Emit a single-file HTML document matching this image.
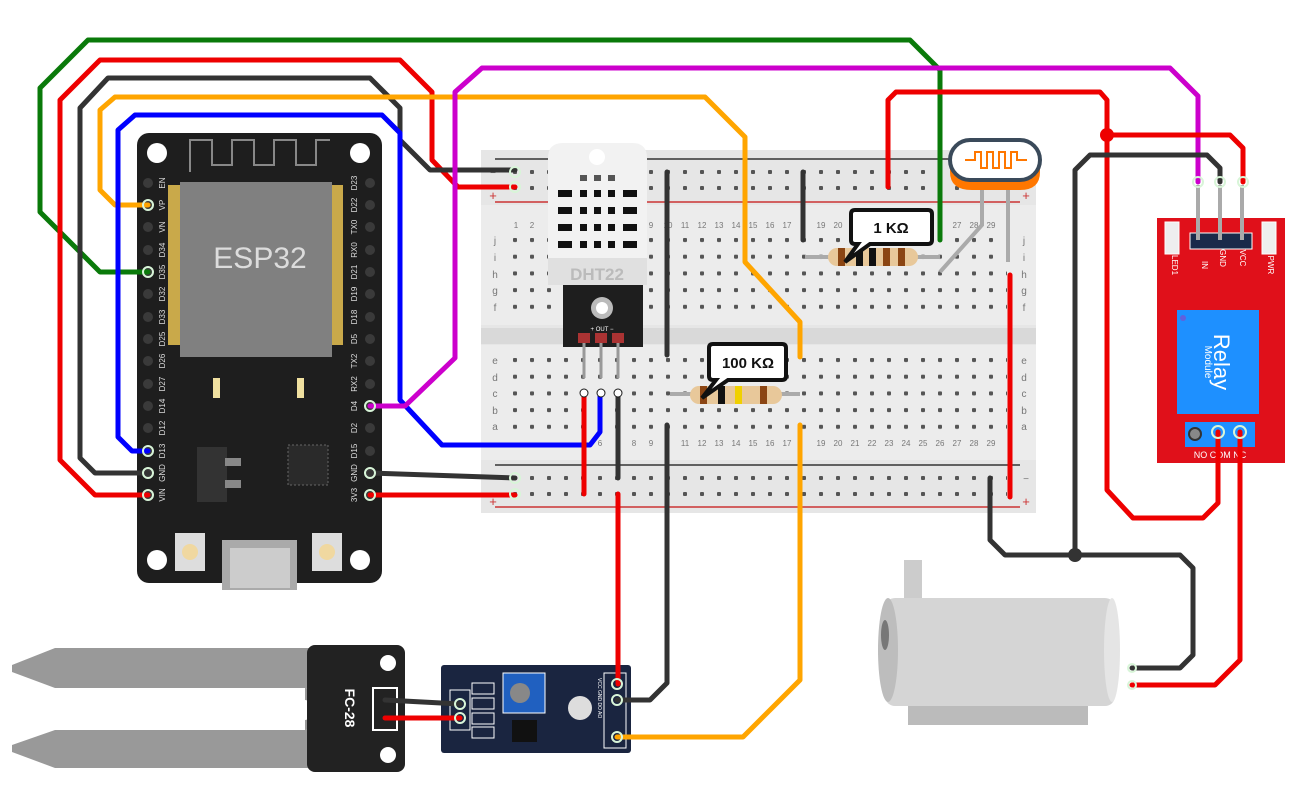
<!DOCTYPE html>
<html><head><meta charset="utf-8"><style>
html,body{margin:0;padding:0;background:#fff;width:1293px;height:807px;overflow:hidden}
svg{display:block;font-family:"Liberation Sans",sans-serif}
</style></head><body>
<svg width="1293" height="807" viewBox="0 0 1293 807" xmlns="http://www.w3.org/2000/svg">
<defs>
<pattern id="h" x="511" y="0" width="17" height="16.7" patternUnits="userSpaceOnUse">
<rect x="2" y="0" width="4" height="4" rx="1" fill="#555"/></pattern>
<pattern id="hr" x="511" y="170" width="17" height="16" patternUnits="userSpaceOnUse">
<rect x="2" y="0" width="4" height="4" rx="1" fill="#555"/></pattern>
<pattern id="hb" x="511" y="476" width="17" height="16" patternUnits="userSpaceOnUse">
<rect x="2" y="0" width="4" height="4" rx="1" fill="#555"/></pattern>
</defs>

<!-- Breadboard -->
<rect x="481" y="150" width="555" height="363" fill="#e6e6e6"/>
<rect x="481" y="205" width="555" height="120" fill="#ececec"/>
<rect x="481" y="328" width="555" height="16" fill="#d9d9d9"/>
<rect x="481" y="345" width="555" height="115" fill="#ececec"/>
<line x1="495" y1="159" x2="1020" y2="159" stroke="#333" stroke-width="1.5"/>
<line x1="495" y1="202" x2="1020" y2="202" stroke="#c33" stroke-width="1.5"/>
<line x1="495" y1="465" x2="1020" y2="465" stroke="#333" stroke-width="1.5"/>
<line x1="495" y1="507" x2="1020" y2="507" stroke="#c33" stroke-width="1.5"/>
<rect x="511" y="170" width="496" height="22" fill="url(#hr)"/>
<rect x="511" y="476" width="496" height="22" fill="url(#hb)"/>
<g transform="translate(0,238)"><rect x="511" y="0" width="496" height="72" fill="url(#h)"/></g>
<g transform="translate(0,358)"><rect x="511" y="0" width="496" height="72" fill="url(#h)"/></g>
<g font-size="10" fill="#777" text-anchor="middle">
<text x="493" y="176">−</text><text x="493" y="200" fill="#c33" font-size="13">+</text>
<text x="1026" y="176">−</text><text x="1026" y="200" fill="#c33" font-size="13">+</text>
<text x="493" y="482">−</text><text x="493" y="506" fill="#c33" font-size="13">+</text>
<text x="1026" y="482">−</text><text x="1026" y="506" fill="#c33" font-size="13">+</text>
<text x="495" y="244">j</text><text x="495" y="261">i</text><text x="495" y="278">h</text><text x="495" y="294">g</text><text x="495" y="311">f</text>
<text x="495" y="364">e</text><text x="495" y="381">d</text><text x="495" y="397">c</text><text x="495" y="414">b</text><text x="495" y="430">a</text>
<text x="1024" y="244">j</text><text x="1024" y="261">i</text><text x="1024" y="278">h</text><text x="1024" y="294">g</text><text x="1024" y="311">f</text>
<text x="1024" y="364">e</text><text x="1024" y="381">d</text><text x="1024" y="397">c</text><text x="1024" y="414">b</text><text x="1024" y="430">a</text>
</g>
<g font-size="8" fill="#777" text-anchor="middle">
<text x="516" y="228">1</text><text x="532" y="228">2</text><text x="651" y="228">9</text><text x="668" y="228">10</text><text x="685" y="228">11</text><text x="702" y="228">12</text><text x="719" y="228">13</text><text x="736" y="228">14</text><text x="753" y="228">15</text><text x="770" y="228">16</text><text x="787" y="228">17</text><text x="821" y="228">19</text><text x="838" y="228">20</text><text x="957" y="228">27</text><text x="974" y="228">28</text><text x="991" y="228">29</text>
<text x="600" y="446">6</text><text x="634" y="446">8</text><text x="651" y="446">9</text><text x="685" y="446">11</text><text x="702" y="446">12</text><text x="719" y="446">13</text><text x="736" y="446">14</text><text x="753" y="446">15</text><text x="770" y="446">16</text><text x="787" y="446">17</text><text x="821" y="446">19</text><text x="838" y="446">20</text><text x="855" y="446">21</text><text x="872" y="446">22</text><text x="889" y="446">23</text><text x="906" y="446">24</text><text x="923" y="446">25</text><text x="940" y="446">26</text><text x="957" y="446">27</text><text x="974" y="446">28</text><text x="991" y="446">29</text>
</g>

<!-- ESP32 -->
<rect x="137" y="133" width="245" height="450" rx="12" fill="#1e1e1e"/>
<circle cx="157" cy="153" r="10" fill="#fff"/><circle cx="360" cy="153" r="10" fill="#fff"/>
<circle cx="157" cy="560" r="10" fill="#fff"/><circle cx="360" cy="560" r="10" fill="#fff"/>
<path d="M190 172 V140 H212 V165 H232 V140 H254 V165 H274 V140 H296 V165 H316 V140 H330" fill="none" stroke="#888" stroke-width="2"/>
<rect x="168" y="185" width="175" height="160" fill="#c9a94a"/>
<rect x="180" y="182" width="152" height="175" fill="#808080"/>
<text x="260" y="268" font-size="30" fill="#dcdcdc" text-anchor="middle">ESP32</text>
<g fill="#f0e0a0"><rect x="213" y="378" width="7" height="20"/><rect x="297" y="378" width="7" height="20"/></g>
<rect x="197" y="447" width="30" height="55" fill="#333"/><rect x="225" y="458" width="16" height="8" fill="#888"/><rect x="225" y="480" width="16" height="8" fill="#888"/>
<rect x="288" y="445" width="40" height="40" fill="#2a2a2a" stroke="#666" stroke-dasharray="2 2"/>
<rect x="175" y="533" width="30" height="38" fill="#ddd"/><circle cx="190" cy="552" r="8" fill="#f0d8a0"/>
<rect x="312" y="533" width="30" height="38" fill="#ddd"/><circle cx="327" cy="552" r="8" fill="#f0d8a0"/>
<rect x="222" y="540" width="75" height="50" fill="#aaa"/><rect x="230" y="548" width="60" height="40" fill="#ccc"/>
<g fill="#3a3a3a">
<circle cx="148" cy="183" r="5"/><circle cx="148" cy="205" r="5"/><circle cx="148" cy="227" r="5"/><circle cx="148" cy="250" r="5"/><circle cx="148" cy="272" r="5"/><circle cx="148" cy="294" r="5"/><circle cx="148" cy="317" r="5"/><circle cx="148" cy="339" r="5"/><circle cx="148" cy="361" r="5"/><circle cx="148" cy="384" r="5"/><circle cx="148" cy="406" r="5"/><circle cx="148" cy="428" r="5"/><circle cx="148" cy="451" r="5"/><circle cx="148" cy="473" r="5"/><circle cx="148" cy="495" r="5"/>
<circle cx="370" cy="183" r="5"/><circle cx="370" cy="205" r="5"/><circle cx="370" cy="227" r="5"/><circle cx="370" cy="250" r="5"/><circle cx="370" cy="272" r="5"/><circle cx="370" cy="294" r="5"/><circle cx="370" cy="317" r="5"/><circle cx="370" cy="339" r="5"/><circle cx="370" cy="361" r="5"/><circle cx="370" cy="384" r="5"/><circle cx="370" cy="406" r="5"/><circle cx="370" cy="428" r="5"/><circle cx="370" cy="451" r="5"/><circle cx="370" cy="473" r="5"/><circle cx="370" cy="495" r="5"/>
</g>
<g font-size="8" fill="#ddd" text-anchor="middle">
<text transform="translate(165,183) rotate(-90)">EN</text><text transform="translate(165,205) rotate(-90)">VP</text><text transform="translate(165,227) rotate(-90)">VN</text><text transform="translate(165,250) rotate(-90)">D34</text><text transform="translate(165,272) rotate(-90)">D35</text><text transform="translate(165,294) rotate(-90)">D32</text><text transform="translate(165,317) rotate(-90)">D33</text><text transform="translate(165,339) rotate(-90)">D25</text><text transform="translate(165,361) rotate(-90)">D26</text><text transform="translate(165,384) rotate(-90)">D27</text><text transform="translate(165,406) rotate(-90)">D14</text><text transform="translate(165,428) rotate(-90)">D12</text><text transform="translate(165,451) rotate(-90)">D13</text><text transform="translate(165,473) rotate(-90)">GND</text><text transform="translate(165,495) rotate(-90)">VIN</text>
<text transform="translate(357,183) rotate(-90)">D23</text><text transform="translate(357,205) rotate(-90)">D22</text><text transform="translate(357,227) rotate(-90)">TX0</text><text transform="translate(357,250) rotate(-90)">RX0</text><text transform="translate(357,272) rotate(-90)">D21</text><text transform="translate(357,294) rotate(-90)">D19</text><text transform="translate(357,317) rotate(-90)">D18</text><text transform="translate(357,339) rotate(-90)">D5</text><text transform="translate(357,361) rotate(-90)">TX2</text><text transform="translate(357,384) rotate(-90)">RX2</text><text transform="translate(357,406) rotate(-90)">D4</text><text transform="translate(357,428) rotate(-90)">D2</text><text transform="translate(357,451) rotate(-90)">D15</text><text transform="translate(357,473) rotate(-90)">GND</text><text transform="translate(357,495) rotate(-90)">3V3</text>
</g>

<!-- DHT22 -->
<rect x="563" y="280" width="80" height="67" fill="#1e1e1e"/>
<circle cx="602" cy="308" r="11" fill="#bbb"/><circle cx="602" cy="308" r="6" fill="#fff"/>
<text x="602" y="331" font-size="6" fill="#fff" text-anchor="middle">+   OUT   −</text>
<rect x="578" y="333" width="12" height="10" fill="#a33"/><rect x="595" y="333" width="12" height="10" fill="#a33"/><rect x="612" y="333" width="12" height="10" fill="#a33"/>
<g stroke="#999" stroke-width="3"><line x1="584" y1="343" x2="584" y2="378"/><line x1="601" y1="343" x2="601" y2="378"/><line x1="618" y1="343" x2="618" y2="378"/></g>
<path d="M548 158 Q548 143 563 143 H632 Q647 143 647 158 V285 H548 Z" fill="#f2f2f2"/>
<circle cx="597" cy="157" r="8" fill="#fff"/>
<g fill="#111">
<rect x="558" y="190" width="14" height="7"/><rect x="580" y="190" width="7" height="7"/><rect x="594" y="190" width="7" height="7"/><rect x="608" y="190" width="7" height="7"/><rect x="623" y="190" width="14" height="7"/>
<rect x="558" y="207" width="14" height="7"/><rect x="580" y="207" width="7" height="7"/><rect x="594" y="207" width="7" height="7"/><rect x="608" y="207" width="7" height="7"/><rect x="623" y="207" width="14" height="7"/>
<rect x="558" y="224" width="14" height="7"/><rect x="580" y="224" width="7" height="7"/><rect x="594" y="224" width="7" height="7"/><rect x="608" y="224" width="7" height="7"/><rect x="623" y="224" width="14" height="7"/>
<rect x="558" y="241" width="14" height="7"/><rect x="580" y="241" width="7" height="7"/><rect x="594" y="241" width="7" height="7"/><rect x="608" y="241" width="7" height="7"/><rect x="623" y="241" width="14" height="7"/>
<rect x="580" y="175" width="7" height="6" fill="#555"/><rect x="594" y="175" width="7" height="6" fill="#555"/><rect x="608" y="175" width="7" height="6" fill="#555"/>
</g>
<rect x="548" y="258" width="99" height="27" fill="#e0e0e0"/>
<text x="597" y="280" font-size="17" font-weight="bold" fill="#bbb" text-anchor="middle">DHT22</text>

<!-- Resistors -->
<line x1="670" y1="394" x2="800" y2="394" stroke="#aaa" stroke-width="4"/>
<rect x="690" y="386" width="92" height="18" rx="9" fill="#e8c89a"/>
<g fill="#8b4513"><rect x="700" y="386" width="7" height="18"/><rect x="760" y="386" width="7" height="18"/></g>
<rect x="718" y="386" width="7" height="18" fill="#111"/><rect x="735" y="386" width="7" height="18" fill="#f0d000"/>
<line x1="805" y1="257" x2="940" y2="257" stroke="#aaa" stroke-width="4"/>
<rect x="828" y="248" width="90" height="18" rx="9" fill="#e8c89a"/>
<g fill="#8b4513"><rect x="838" y="248" width="7" height="18"/><rect x="883" y="248" width="7" height="18"/><rect x="898" y="248" width="7" height="18"/></g>
<rect x="856" y="248" width="7" height="18" fill="#111"/><rect x="869" y="248" width="7" height="18" fill="#111"/>

<!-- LDR legs -->
<g stroke="#aaa" stroke-width="4" fill="none"><path d="M982 185 V225 L940 272"/><path d="M1008 185 V262"/></g>

<!-- Relay -->
<rect x="1157" y="218" width="128" height="245" fill="#e0101a"/>
<rect x="1165" y="222" width="14" height="32" fill="#eee" stroke="#fff"/><rect x="1262" y="222" width="14" height="32" fill="#eee" stroke="#fff"/>
<rect x="1190" y="233" width="62" height="16" fill="#1a2a4a" stroke="#fff"/>
<g font-size="8" fill="#fff" text-anchor="middle">
<text transform="translate(1202,265) rotate(90)">IN</text><text transform="translate(1220,258) rotate(90)">GND</text><text transform="translate(1240,258) rotate(90)">VCC</text>
<text transform="translate(1172,265) rotate(90)">LED1</text><text transform="translate(1268,265) rotate(90)">PWR</text>
</g>
<rect x="1177" y="310" width="82" height="104" fill="#1e90ff"/>
<circle cx="1183" cy="318" r="3" fill="#6060dd"/>
<text transform="translate(1214,362) rotate(90)" font-size="22" fill="#fff" text-anchor="middle">Relay</text>
<text transform="translate(1205,362) rotate(90)" font-size="10" fill="#fff" text-anchor="middle">Module</text>
<rect x="1185" y="422" width="70" height="25" fill="#1e90ff"/>
<circle cx="1195" cy="434" r="6" fill="#888" stroke="#333" stroke-width="2"/>
<text x="1220" y="458" font-size="9" fill="#fff" text-anchor="middle">NO COM NC</text>
<g stroke="#aaa" stroke-width="4"><line x1="1198" y1="185" x2="1198" y2="240"/><line x1="1220" y1="185" x2="1220" y2="240"/><line x1="1242" y1="185" x2="1242" y2="240"/></g>

<!-- Pump -->
<rect x="904" y="560" width="18" height="45" fill="#ccc"/>
<rect x="908" y="700" width="180" height="25" fill="#bbb"/>
<rect x="885" y="598" width="230" height="108" rx="10" fill="#d5d5d5"/>
<ellipse cx="888" cy="650" rx="10" ry="52" fill="#bdbdbd"/>
<ellipse cx="885" cy="635" rx="4" ry="15" fill="#777"/>
<ellipse cx="1112" cy="650" rx="8" ry="52" fill="#e5e5e5"/>

<!-- Soil probe -->
<path d="M12 665 L55 648 H310 V688 H55 L12 672 Z" fill="#999"/>
<path d="M12 745 L55 730 H310 V768 H55 L12 752 Z" fill="#999"/>
<path d="M305 688 Q320 688 320 705 V715 Q320 730 305 730 V720 Q310 720 310 710 Q310 700 305 700 Z" fill="#999"/>
<rect x="307" y="645" width="98" height="127" rx="8" fill="#222"/>
<circle cx="388" cy="663" r="8" fill="#fff"/><circle cx="388" cy="755" r="8" fill="#fff"/>
<text transform="translate(345,708) rotate(90)" font-size="14" font-weight="bold" fill="#fff" text-anchor="middle">FC-28</text>
<rect x="373" y="688" width="24" height="42" fill="#222" stroke="#fff" stroke-width="2"/>

<!-- Sensor module -->
<rect x="441" y="665" width="190" height="88" rx="3" fill="#1a2540"/>
<rect x="450" y="690" width="20" height="40" fill="none" stroke="#fff"/>
<g fill="none" stroke="#fff"><rect x="472" y="683" width="22" height="11"/><rect x="472" y="698" width="22" height="11"/><rect x="472" y="713" width="22" height="11"/><rect x="472" y="727" width="22" height="11"/></g>
<rect x="503" y="673" width="42" height="40" fill="#2060c0" stroke="#fff"/>
<circle cx="520" cy="693" r="10" fill="#888"/>
<rect x="512" y="720" width="25" height="22" fill="#111"/>
<circle cx="580" cy="708" r="12" fill="#ddd"/>
<rect x="604" y="673" width="22" height="75" fill="none" stroke="#fff"/>
<g font-size="5" fill="#fff"><text transform="translate(598,678) rotate(90)">VCC GND DO AO</text></g>

<!-- Wires -->
<g fill="none" stroke-width="5" stroke-linejoin="round" stroke-linecap="round">
<path d="M148 272 H100 L40 212 V88 L88 40 H910 L940 70 V240" stroke="#0a7a0a"/>
<path d="M148 495 H95 L60 460 V100 L100 60 H400 L432 92 V160 L458 187 H515" stroke="#e00"/>
<path d="M148 473 H95 L80 458 V108 L108 78 H370 L400 108 V140 L430 170 H515" stroke="#333"/>
<path d="M148 205 H115 L100 190 V110 L115 97 H705 L745 137 V262 L800 322 V357" stroke="#ffa500"/>
<path d="M800 425 V680 L743 737 H617" stroke="#ffa500"/>
<path d="M148 451 H132 L118 437 V130 L135 115 H382 L400 133 V400 L442 445 H590 L600 432 V393" stroke="#00f"/>
<path d="M370 406 H405 L455 358 V92 L482 68 H1170 L1198 96 V182" stroke="#c0c"/>
<path d="M370 473 L515 478" stroke="#333"/>
<path d="M370 495 H515" stroke="#e00"/>
<path d="M584 393 V494" stroke="#e00"/>
<path d="M618 393 V478" stroke="#333"/>
<path d="M618 494 V684" stroke="#e00"/>
<path d="M667 425 V683 L650 700 H617" stroke="#333"/>
<path d="M667 172 V355" stroke="#333"/>
<path d="M803 172 V240" stroke="#333"/>
<path d="M888 187 V100 L896 92 H1100 L1107 100 V490 L1133 518 H1203 L1218 503 V432" stroke="#e00"/>
<path d="M1107 135 H1230 L1243 148 V182" stroke="#e00"/>
<path d="M1220 182 V168 L1207 155 H1090 L1075 170 V555" stroke="#333"/>
<path d="M990 478 V540 L1005 555 H1180 L1193 568 V655 L1180 668 H1132" stroke="#333"/>
<path d="M1240 432 V660 L1215 685 H1132" stroke="#e00"/>
<path d="M1010 275 V497" stroke="#e00"/>
<path d="M385 718 H460" stroke="#e00"/>
<path d="M385 700 L460 704" stroke="#333"/>
</g>
<circle cx="1107" cy="135" r="7" fill="#e00"/><circle cx="1075" cy="555" r="7" fill="#333"/>
<g stroke="#d8f5d8" stroke-width="2" fill="none">
<circle cx="148" cy="272" r="5"/><circle cx="148" cy="205" r="5"/><circle cx="148" cy="451" r="5"/><circle cx="148" cy="473" r="5"/><circle cx="148" cy="495" r="5"/>
<circle cx="370" cy="406" r="5"/><circle cx="370" cy="473" r="5"/><circle cx="370" cy="495" r="5"/>
<circle cx="515" cy="172" r="5"/><circle cx="515" cy="187" r="5"/><circle cx="515" cy="478" r="5"/><circle cx="515" cy="494" r="5"/>
<circle cx="460" cy="704" r="5"/><circle cx="460" cy="718" r="5"/><circle cx="617" cy="684" r="5"/><circle cx="617" cy="700" r="5"/><circle cx="617" cy="737" r="5"/>
<circle cx="1198" cy="182" r="5"/><circle cx="1220" cy="182" r="5"/><circle cx="1243" cy="182" r="5"/>
<circle cx="1218" cy="432" r="6"/><circle cx="1240" cy="432" r="6"/><circle cx="1132" cy="668" r="4"/><circle cx="1132" cy="685" r="4"/>
</g>
<g fill="#fff" stroke="#1a1a1a" stroke-width="1"><circle cx="584" cy="393" r="4"/><circle cx="601" cy="393" r="4"/><circle cx="618" cy="393" r="4"/></g>

<!-- LDR -->
<path d="M950 165 V172 Q950 190 972 190 H1020 Q1040 190 1040 172 V165 Z" fill="#ff7700"/>
<rect x="950" y="140" width="90" height="40" rx="20" fill="#fff" stroke="#3a4a5a" stroke-width="4"/>
<path d="M965 160 H975 V152 H981 V168 H987 V152 H993 V168 H999 V152 H1005 V168 H1011 V152 H1017 V160 H1027" fill="none" stroke="#ff7700" stroke-width="2"/>

<!-- Callouts -->
<path d="M855 210 H928 Q932 210 932 214 V240 Q932 244 928 244 H870 L845 262 L858 244 H855 Q851 244 851 240 V214 Q851 210 855 210 Z" fill="#fff" stroke="#111" stroke-width="4"/>
<text x="891" y="233" font-size="15" font-weight="bold" fill="#111" text-anchor="middle">1 KΩ</text>
<path d="M713 344 H782 Q786 344 786 348 V376 Q786 380 782 380 H728 L702 398 L716 380 H713 Q709 380 709 376 V348 Q709 344 713 344 Z" fill="#fff" stroke="#111" stroke-width="4"/>
<text x="748" y="368" font-size="15" font-weight="bold" fill="#111" text-anchor="middle">100 KΩ</text>
</svg>
</body></html>
